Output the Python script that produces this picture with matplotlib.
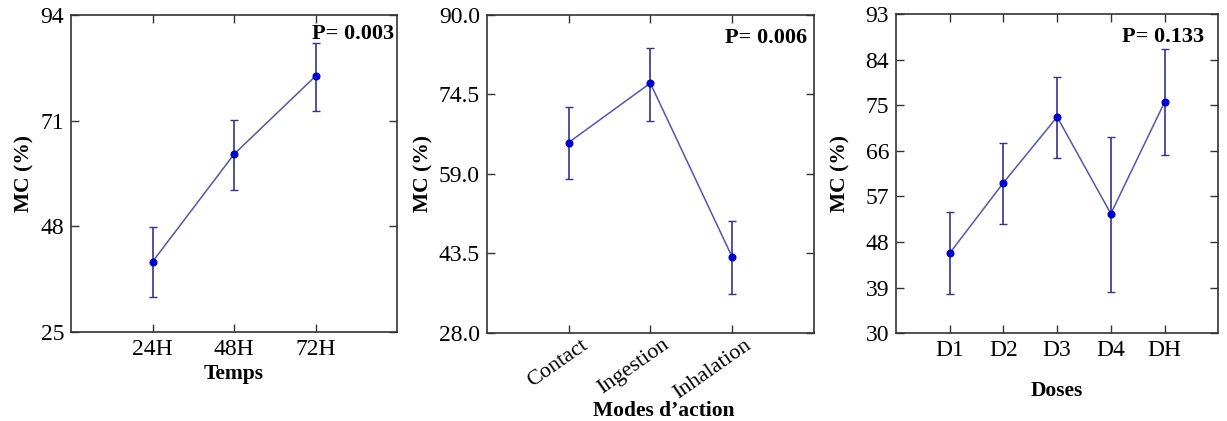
import matplotlib.pyplot as plt
from matplotlib.transforms import ScaledTranslation

# panel 1 : temps
temps = ['24H', '48H', '72H']
temps_mc = [40.3, 63.7, 80.7]
temps_low = [32.6, 55.9, 73.2]
temps_high = [47.9, 71.1, 88.0]

# panel 2 : modes d'action
modes = ['Contact', 'Ingestion', 'Inhalation']
modes_mc = [65.1, 76.7, 42.8]
modes_low = [57.9, 69.4, 35.6]
modes_high = [72.1, 83.6, 49.8]

# panel 3 : doses
doses = ['D1', 'D2', 'D3', 'D4', 'DH']
doses_mc = [45.8, 59.7, 72.7, 53.6, 75.6]
doses_low = [37.7, 51.5, 64.5, 38.1, 65.2]
doses_high = [53.9, 67.6, 80.5, 68.8, 86.0]

plt.rcParams['font.family'] = ['Liberation Serif', 'DejaVu Serif']

fig = plt.figure(figsize=(12.27, 4.21), dpi=100)

panels = [
    (temps, temps_mc, temps_low, temps_high, 'Temps', 'P= 0.003',
     [25, 48, 71, 94], '{:.0f}', [0.0579, 0.2114, 0.2657, 0.7530], 0, 3, 4, 0.99, 0.97),
    (modes, modes_mc, modes_low, modes_high, 'Modes d\u2019action', 'P= 0.006',
     [28.0, 43.5, 59.0, 74.5, 90.0], '{:.1f}', [0.3967, 0.2097, 0.2666, 0.7547], 35, 2, 4, 0.98, 0.96),
    (doses, doses_mc, doses_low, doses_high, 'Doses', 'P= 0.133',
     [30, 39, 48, 57, 66, 75, 84, 93], '{:.0f}', [0.7302, 0.2083, 0.2627, 0.7584], 0, 14, 10.5, 0.955, 0.96),
]

for cats, mc, low, high, xlab, ptxt, yt, fmt, pos, rot, lpad, ylpad, px, py in panels:
    ax = fig.add_axes(pos)
    x = list(range(1, len(cats) + 1))
    err = [[m - l for m, l in zip(mc, low)], [h - m for m, h in zip(mc, high)]]
    ax.errorbar(x, mc, yerr=err, fmt='none', ecolor='#33338f', elinewidth=1.2,
                capsize=3, capthick=1.0, zorder=2)
    ax.plot(x, mc, '-', color='#5555b0', lw=1.1, zorder=3)
    ax.plot(x, mc, 'o', color='#0000d0', ms=4.8, zorder=4)
    ax.set_xlim(0, len(cats) + 1)
    ax.set_ylim(yt[0], yt[-1])
    ax.set_xticks(x)
    ax.set_yticks(yt)
    ax.set_yticklabels([fmt.format(v) for v in yt])
    ax.tick_params(direction='in', length=6, width=1, top=True, right=True,
                   labelsize=17, color='#333333', pad=5)
    for s in ax.spines.values():
        s.set_color('#333333')
        s.set_linewidth(1.2)
    ax.set_ylabel('MC (%)', fontsize=15.5, fontweight='bold', labelpad=ylpad)
    ax.set_xlabel(xlab, fontsize=15.5, fontweight='bold', labelpad=lpad)
    if rot:
        ax.set_xticklabels(cats, rotation=rot, ha='right', rotation_mode='anchor',
                           fontsize=16)
        ax.tick_params(axis='x', pad=2)
        shift = ScaledTranslation(0.12, 0, fig.dpi_scale_trans)
        for lab in ax.get_xticklabels():
            lab.set_transform(lab.get_transform() + shift)
        ax.xaxis.set_label_coords(0.54, -0.215)
    else:
        ax.set_xticklabels(cats)
    ax.text(px, py, ptxt, transform=ax.transAxes, ha='right', va='top',
            fontsize=16, fontweight='bold')

fig.savefig('out.png', dpi=100)
